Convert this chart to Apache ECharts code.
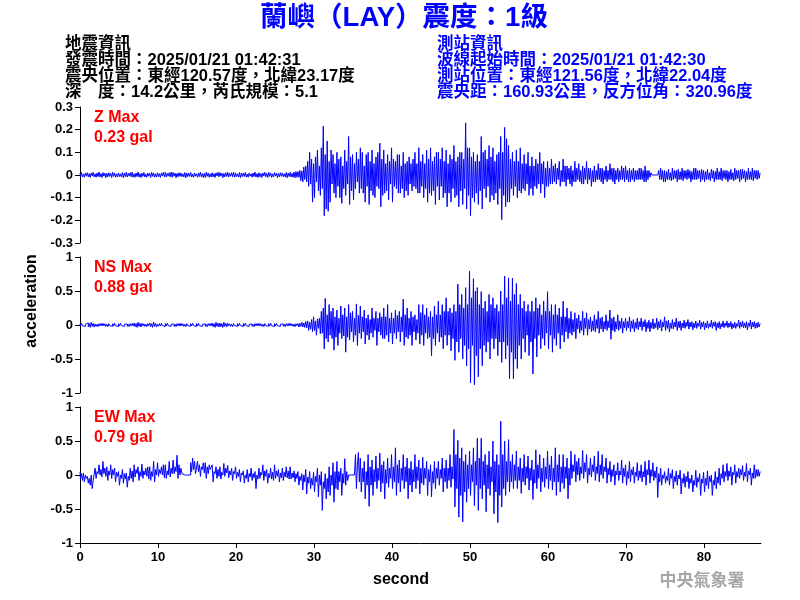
<!DOCTYPE html>
<html><head><meta charset="utf-8">
<script src="https://cdn.jsdelivr.net/npm/echarts@6/dist/echarts.min.js"></script>
<style>html,body{margin:0;padding:0;background:#fff}#c{width:800px;height:600px}</style>
</head><body><div id="c"></div>
<script>
// sampling step of the hand-read waveforms (seconds): 8 values per second
const sampleStep = 0.125;

// Z component (gal), one row per second
const zValues = [
0.008,-0.006,0.011,-0.009,0.004,-0.01,0.009,-0.005,
0.01,-0.008,0.006,-0.011,0.009,-0.004,0.012,-0.008,
0.005,-0.01,0.009,-0.007,0.013,-0.009,0.006,-0.011,
0.011,-0.005,0.008,-0.012,0.007,-0.008,0.01,-0.006,
0.007,-0.011,0.012,-0.006,0.009,-0.01,0.005,-0.009,
0.009,-0.007,0.005,-0.009,0.011,-0.012,0.008,-0.007,
0.012,-0.009,0.007,-0.005,0.01,-0.008,0.013,-0.01,
0.005,-0.01,0.009,-0.007,0.013,-0.009,0.006,-0.011,
0.008,-0.006,0.011,-0.009,0.004,-0.01,0.009,-0.005,
0.007,-0.011,0.012,-0.006,0.009,-0.01,0.005,-0.009,
0.01,-0.008,0.006,-0.011,0.009,-0.004,0.012,-0.008,
0.012,-0.009,0.007,-0.005,0.01,-0.008,0.013,-0.01,
0.011,-0.005,0.008,-0.012,0.007,-0.008,0.01,-0.006,
0.009,-0.007,0.005,-0.009,0.011,-0.012,0.008,-0.007,
0.008,-0.006,0.011,-0.009,0.004,-0.01,0.009,-0.005,
0.005,-0.01,0.009,-0.007,0.013,-0.009,0.006,-0.011,
0.007,-0.011,0.012,-0.006,0.009,-0.01,0.005,-0.009,
0.01,-0.008,0.006,-0.011,0.009,-0.004,0.012,-0.008,
0.011,-0.005,0.008,-0.012,0.007,-0.008,0.01,-0.006,
0.012,-0.009,0.007,-0.005,0.01,-0.008,0.013,-0.01,
0.009,-0.007,0.005,-0.009,0.011,-0.012,0.008,-0.007,
0.008,-0.006,0.011,-0.009,0.004,-0.01,0.009,-0.005,
0.005,-0.01,0.009,-0.007,0.013,-0.009,0.006,-0.011,
0.01,-0.008,0.006,-0.011,0.009,-0.004,0.012,-0.008,
0.007,-0.011,0.012,-0.006,0.009,-0.01,0.005,-0.009,
0.011,-0.005,0.008,-0.012,0.007,-0.008,0.01,-0.006,
0.009,-0.007,0.005,-0.009,0.011,-0.012,0.008,-0.007,
0.012,-0.009,0.007,-0.01,0.013,-0.012,0.015,-0.01,
0.015,-0.01,0.02,-0.025,0.018,-0.03,0.035,-0.02,
0.04,-0.03,0.06,-0.05,0.1,-0.04,0.07,-0.12,
0.05,-0.1,0.08,-0.03,0.11,-0.07,0.04,-0.09,
0.12,-0.06,0.216,-0.18,0.09,-0.15,0.15,-0.16,
0.06,-0.12,0.11,-0.04,0.09,-0.08,0.05,-0.1,
0.1,-0.05,0.07,-0.1,0.08,-0.125,0.04,-0.06,
0.11,-0.09,0.06,-0.04,0.17,-0.13,0.08,-0.07,
0.09,-0.11,0.05,-0.06,0.1,-0.03,0.07,-0.08,
0.12,-0.06,0.1,-0.08,0.04,-0.12,0.09,-0.05,
0.1,-0.13,0.06,-0.07,0.11,-0.09,0.05,-0.1,
0.08,-0.05,0.1,-0.06,0.14,-0.14,0.07,-0.09,
0.11,-0.08,0.05,-0.07,0.09,-0.11,0.06,-0.04,
0.12,-0.12,0.07,-0.05,0.06,-0.06,0.09,-0.08,
0.09,-0.08,0.04,-0.06,0.1,-0.1,0.05,-0.07,
0.06,-0.09,0.08,-0.04,0.05,-0.07,0.07,-0.05,
0.1,-0.06,0.05,-0.08,0.12,-0.08,0.06,-0.05,
0.09,-0.1,0.05,-0.06,0.11,-0.12,0.07,-0.08,
0.12,-0.09,0.06,-0.07,0.08,-0.13,0.1,-0.05,
0.1,-0.11,0.07,-0.05,0.12,-0.1,0.06,-0.08,
0.11,-0.14,0.05,-0.08,0.09,-0.12,0.07,-0.06,
0.13,-0.1,0.06,-0.09,0.08,-0.14,0.1,-0.07,
0.1,-0.13,0.07,-0.06,0.23,-0.15,0.12,-0.09,
0.12,-0.18,0.08,-0.1,0.1,-0.12,0.06,-0.08,
0.09,-0.13,0.06,-0.07,0.17,-0.15,0.1,-0.06,
0.11,-0.1,0.07,-0.05,0.13,-0.12,0.08,-0.09,
0.12,-0.11,0.06,-0.08,0.09,-0.13,0.1,-0.06,
0.17,-0.197,0.1,-0.09,0.21,-0.14,0.16,-0.12,
0.13,-0.12,0.07,-0.06,0.1,-0.09,0.06,-0.05,
0.11,-0.1,0.06,-0.07,0.12,-0.08,0.05,-0.06,
0.09,-0.07,0.05,-0.04,0.1,-0.09,0.04,-0.06,
0.08,-0.09,0.04,-0.05,0.07,-0.06,0.05,-0.04,
0.1,-0.08,0.05,-0.04,0.06,-0.1,0.03,-0.05,
0.06,-0.05,0.03,-0.04,0.07,-0.04,0.04,-0.03,
0.05,-0.04,0.03,-0.02,0.06,-0.05,0.02,-0.03,
0.07,-0.03,0.04,-0.05,0.04,-0.02,0.03,-0.04,
0.04,-0.05,0.02,-0.03,0.06,-0.03,0.03,-0.02,
0.05,-0.03,0.02,-0.04,0.04,-0.04,0.03,-0.02,
0.06,-0.04,0.03,-0.02,0.03,-0.05,0.02,-0.03,
0.04,-0.03,0.02,-0.02,0.05,-0.02,0.03,-0.03,
0.03,-0.04,0.02,-0.02,0.04,-0.03,0.02,-0.02,
0.05,-0.02,0.03,-0.03,0.03,-0.04,0.02,-0.02,
0.03,-0.03,0.02,-0.02,0.04,-0.02,0.03,-0.03,
0.04,-0.02,0.02,-0.03,0.03,-0.03,0.02,-0.02,
0.03,-0.03,0.02,-0.02,0.02,-0.02,0.03,-0.02,
0.03,-0.02,0.02,-0.03,0.04,-0.03,0.02,-0.02,
0.02,-0.01,0.01,0,0,0,0,0,
0,0,0.02,-0.02,0.03,-0.02,0.02,-0.03,
0.02,-0.03,0.015,-0.02,0.025,-0.02,0.01,-0.025,
0.03,-0.02,0.02,-0.015,0.02,-0.03,0.025,-0.02,
0.015,-0.02,0.03,-0.025,0.02,-0.015,0.02,-0.02,
0.025,-0.015,0.02,-0.03,0.015,-0.02,0.03,-0.02,
0.03,-0.02,0.02,-0.015,0.02,-0.03,0.025,-0.02,
0.02,-0.03,0.015,-0.02,0.025,-0.02,0.01,-0.025,
0.025,-0.015,0.02,-0.03,0.015,-0.02,0.03,-0.02,
0.015,-0.02,0.03,-0.025,0.02,-0.015,0.02,-0.02,
0.02,-0.03,0.015,-0.02,0.025,-0.02,0.01,-0.025,
0.03,-0.02,0.02,-0.015,0.02,-0.03,0.025,-0.02,
0.025,-0.015,0.02,-0.03,0.015,-0.02,0.03,-0.02,
0.015,-0.02,0.03,-0.025,0.02,-0.015,0.02,-0.02,
0.02,-0.015,0.01
];

// NS component (gal)
const nsValues = [
0.02,-0.015,0.025,-0.01,0.015,-0.02,0.01,-0.018,
0.03,-0.025,0.02,-0.035,0.04,-0.02,0.025,-0.03,
0.015,-0.02,0.01,-0.025,0.02,-0.012,0.022,-0.015,
0.025,-0.012,0.018,-0.02,0.012,-0.025,0.02,-0.01,
0.012,-0.018,0.02,-0.015,0.025,-0.01,0.015,-0.022,
0.02,-0.015,0.025,-0.01,0.015,-0.02,0.01,-0.018,
0.015,-0.02,0.01,-0.025,0.02,-0.012,0.022,-0.015,
0.03,-0.025,0.02,-0.035,0.04,-0.02,0.025,-0.03,
0.025,-0.012,0.018,-0.02,0.012,-0.025,0.02,-0.01,
0.03,-0.025,0.02,-0.035,0.04,-0.02,0.025,-0.03,
0.012,-0.018,0.02,-0.015,0.025,-0.01,0.015,-0.022,
0.02,-0.015,0.025,-0.01,0.015,-0.02,0.01,-0.018,
0.015,-0.02,0.01,-0.025,0.02,-0.012,0.022,-0.015,
0.025,-0.012,0.018,-0.02,0.012,-0.025,0.02,-0.01,
0.012,-0.018,0.02,-0.015,0.025,-0.01,0.015,-0.022,
0.02,-0.015,0.025,-0.01,0.015,-0.02,0.01,-0.018,
0.015,-0.02,0.01,-0.025,0.02,-0.012,0.022,-0.015,
0.03,-0.025,0.02,-0.035,0.04,-0.02,0.025,-0.03,
0.03,-0.025,0.02,-0.035,0.04,-0.02,0.025,-0.03,
0.025,-0.012,0.018,-0.02,0.012,-0.025,0.02,-0.01,
0.012,-0.018,0.02,-0.015,0.025,-0.01,0.015,-0.022,
0.02,-0.015,0.025,-0.01,0.015,-0.02,0.01,-0.018,
0.015,-0.02,0.01,-0.025,0.02,-0.012,0.022,-0.015,
0.025,-0.012,0.018,-0.02,0.012,-0.025,0.02,-0.01,
0.012,-0.018,0.02,-0.015,0.025,-0.01,0.015,-0.022,
0.02,-0.015,0.025,-0.01,0.015,-0.02,0.01,-0.018,
0.015,-0.02,0.01,-0.025,0.02,-0.012,0.022,-0.015,
0.025,-0.012,0.018,-0.02,0.012,-0.025,0.02,-0.01,
0.02,-0.03,0.025,-0.02,0.04,-0.03,0.03,-0.035,
0.05,-0.04,0.06,-0.08,0.04,-0.06,0.08,-0.1,
0.12,-0.08,0.06,-0.15,0.09,-0.05,0.1,-0.13,
0.2,-0.12,0.25,-0.35,0.39,-0.2,0.15,-0.25,
0.3,-0.15,0.2,-0.2,0.25,-0.37,0.12,-0.18,
0.22,-0.3,0.1,-0.12,0.28,-0.2,0.15,-0.16,
0.25,-0.4,0.12,-0.18,0.3,-0.22,0.18,-0.1,
0.2,-0.25,0.1,-0.15,0.31,-0.3,0.14,-0.12,
0.28,-0.2,0.12,-0.1,0.22,-0.28,0.1,-0.15,
0.15,-0.22,0.08,-0.12,0.25,-0.18,0.1,-0.08,
0.2,-0.3,0.1,-0.1,0.18,-0.15,0.12,-0.2,
0.25,-0.2,0.12,-0.15,0.3,-0.25,0.1,-0.12,
0.18,-0.28,0.1,-0.12,0.22,-0.2,0.14,-0.1,
0.2,-0.25,0.12,-0.1,0.38,-0.3,0.15,-0.18,
0.25,-0.2,0.1,-0.15,0.2,-0.3,0.12,-0.1,
0.15,-0.22,0.08,-0.12,0.3,-0.28,0.18,-0.15,
0.3,-0.3,0.15,-0.12,0.25,-0.2,0.12,-0.18,
0.2,-0.45,0.12,-0.2,0.28,-0.3,0.15,-0.12,
0.35,-0.25,0.15,-0.18,0.3,-0.35,0.2,-0.15,
0.4,-0.3,0.2,-0.15,0.25,-0.38,0.18,-0.2,
0.3,-0.52,0.2,-0.25,0.6,-0.4,0.3,-0.2,
0.45,-0.5,0.25,-0.3,0.55,-0.6,0.3,-0.35,
0.79,-0.85,0.4,-0.3,0.68,-0.88,0.5,-0.45,
0.55,-0.76,0.3,-0.35,0.49,-0.6,0.25,-0.3,
0.35,-0.4,0.2,-0.25,0.45,-0.5,0.3,-0.2,
0.4,-0.35,0.25,-0.2,0.3,-0.45,0.2,-0.25,
0.5,-0.55,0.3,-0.25,0.72,-0.5,0.4,-0.3,
0.69,-0.79,0.35,-0.4,0.69,-0.79,0.45,-0.5,
0.61,-0.64,0.3,-0.3,0.45,-0.5,0.25,-0.2,
0.35,-0.4,0.2,-0.15,0.3,-0.45,0.2,-0.25,
0.35,-0.72,0.2,-0.2,0.4,-0.47,0.25,-0.15,
0.3,-0.35,0.15,-0.2,0.35,-0.3,0.2,-0.12,
0.49,-0.35,0.2,-0.15,0.3,-0.4,0.15,-0.2,
0.3,-0.3,0.15,-0.12,0.25,-0.35,0.12,-0.15,
0.35,-0.25,0.12,-0.1,0.25,-0.2,0.1,-0.12,
0.2,-0.15,0.08,-0.1,0.18,-0.2,0.1,-0.06,
0.15,-0.12,0.06,-0.08,0.2,-0.15,0.1,-0.05,
0.18,-0.15,0.08,-0.06,0.12,-0.1,0.06,-0.08,
0.15,-0.1,0.08,-0.05,0.2,-0.12,0.1,-0.06,
0.12,-0.1,0.05,-0.06,0.15,-0.08,0.06,-0.04,
0.22,-0.21,0.1,-0.08,0.12,-0.1,0.05,-0.06,
0.15,-0.08,0.06,-0.05,0.1,-0.12,0.05,-0.04,
0.1,-0.08,0.05,-0.04,0.12,-0.1,0.06,-0.05,
0.08,-0.1,0.04,-0.05,0.1,-0.07,0.05,-0.03,
0.1,-0.08,0.05,-0.03,0.08,-0.1,0.04,-0.05,
0.07,-0.1,0.04,-0.05,0.09,-0.06,0.03,-0.04,
0.1,-0.07,0.05,-0.04,0.08,-0.09,0.04,-0.03,
0.12,-0.08,0.06,-0.05,0.07,-0.1,0.03,-0.05,
0.08,-0.06,0.04,-0.03,0.1,-0.08,0.05,-0.04,
0.06,-0.08,0.03,-0.04,0.07,-0.05,0.04,-0.02,
0.08,-0.06,0.04,-0.03,0.05,-0.07,0.03,-0.04,
0.06,-0.05,0.03,-0.02,0.07,-0.06,0.04,-0.03,
0.05,-0.07,0.03,-0.04,0.06,-0.05,0.02,-0.03,
0.07,-0.05,0.04,-0.02,0.05,-0.08,0.03,-0.04,
0.05,-0.06,0.02,-0.03,0.06,-0.04,0.03,-0.02,
0.06,-0.04,0.03,-0.03,0.05,-0.06,0.02,-0.04,
0.04,-0.05,0.02,-0.02,0.07,-0.05,0.04,-0.03,
0.06,-0.04,0.03,-0.04,0.05,-0.07,0.03,-0.02,
0.07,-0.06,0.04,-0.03,0.05,-0.05,0.03,-0.04,
0.04,-0.03,0.02
];

// EW component (gal)
const ewValues = [
0.04,-0.06,0.02,-0.08,0.03,-0.1,0.0,-0.05,
-0.02,-0.12,-0.05,-0.15,0.0,-0.2,-0.08,-0.1,
0.1,-0.05,0.05,0.02,0.15,0.0,0.08,-0.03,
0.2,0.02,0.1,-0.02,0.12,-0.08,0.06,0.0,
0.15,-0.05,0.08,0.0,0.1,-0.1,0.04,-0.02,
0.05,-0.15,0.0,-0.05,0.08,-0.12,0.02,-0.06,
0.03,-0.18,-0.02,-0.08,0.1,-0.05,0.06,-0.1,
0.15,-0.03,0.08,0.02,0.12,-0.08,0.05,-0.02,
0.16,-0.05,0.06,0.0,0.1,-0.02,0.12,-0.06,
0.12,-0.08,0.05,-0.02,0.2,-0.1,0.08,0.0,
0.18,-0.02,0.08,0.02,0.12,0.0,0.15,-0.04,
0.15,-0.05,0.06,0.0,0.2,-0.03,0.1,0.02,
0.22,0.02,0.12,0.05,0.29,-0.05,0.15,0.0,
0.1,0.02,0,0,0,0,0,0,
0,0,0.18,0.05,0.25,0.08,0.2,0.02,
0.02,0.2,0.05,0.15,-0.02,0.12,0.08,0.18,
0.03,0.18,-0.05,0.12,0.02,0.15,0.08,0.1,
0.15,-0.1,0.05,0.02,0.12,-0.05,0.08,-0.02,
0.12,-0.06,0.04,0.0,0.17,-0.02,0.1,0.03,
0.14,-0.04,0.06,0.0,0.1,-0.08,0.05,0.02,
0.12,-0.05,0.04,-0.02,0.08,-0.1,0.03,0.0,
0.06,-0.12,0.0,-0.05,0.08,-0.1,0.02,-0.03,
0.1,-0.08,0.02,-0.04,0.05,-0.2,0.0,-0.06,
0.1,-0.05,0.04,0.0,0.15,-0.08,0.06,-0.02,
0.08,-0.12,0.02,-0.04,0.1,-0.06,0.04,-0.08,
0.15,-0.05,0.06,-0.02,0.08,-0.1,0.03,-0.04,
0.1,-0.08,0.04,-0.03,0.12,-0.04,0.06,-0.06,
0.12,-0.06,0.03,-0.04,0.06,-0.1,0.02,-0.05,
0.05,-0.15,-0.02,-0.08,0.02,-0.22,0.0,-0.1,
0.08,-0.28,-0.03,-0.12,0.05,-0.2,-0.05,-0.15,
0.04,-0.25,-0.02,-0.1,0.1,-0.32,0.0,-0.15,
0.05,-0.52,-0.1,-0.2,0.02,-0.35,-0.05,-0.25,
0.12,-0.3,0.0,-0.15,0.18,-0.4,0.05,-0.2,
0.2,-0.22,0.05,-0.1,0.1,-0.3,0.02,-0.12,
0.24,-0.15,0.05,-0.08,0,0,0,0,
0,0,0,0.3,-0.2,0.15,0.33,-0.1,
0.25,-0.25,0.1,-0.1,0.2,-0.35,0.05,-0.15,
0.3,-0.46,0.12,-0.15,0.22,-0.3,0.08,-0.1,
0.28,-0.2,0.1,-0.08,0.32,-0.25,0.15,-0.12,
0.2,-0.35,0.08,-0.12,0.25,-0.18,0.1,-0.05,
0.3,-0.2,0.12,-0.1,0.4,-0.3,0.15,-0.12,
0.22,-0.25,0.1,-0.08,0.3,-0.2,0.12,-0.1,
0.25,-0.35,0.1,-0.15,0.2,-0.25,0.08,-0.1,
0.3,-0.2,0.12,-0.08,0.22,-0.28,0.1,-0.12,
0.26,-0.15,0.1,-0.05,0.2,-0.3,0.08,-0.1,
0.15,-0.32,0.05,-0.12,0.2,-0.2,0.1,-0.05,
0.2,-0.15,0.08,-0.05,0.25,-0.25,0.1,-0.1,
0.22,-0.2,0.1,-0.08,0.3,-0.18,0.12,-0.06,
0.67,-0.47,0.3,-0.2,0.51,-0.62,0.25,-0.3,
0.4,-0.69,0.2,-0.25,0.3,-0.4,0.15,-0.2,
0.35,-0.3,0.15,-0.1,0.4,-0.45,0.2,-0.15,
0.54,-0.52,0.25,-0.2,0.54,-0.35,0.2,-0.15,
0.3,-0.54,0.15,-0.2,0.35,-0.3,0.12,-0.1,
0.5,-0.57,0.2,-0.25,0.3,-0.7,0.15,-0.3,
0.79,-0.47,0.3,-0.2,0.5,-0.3,0.2,-0.1,
0.52,-0.25,0.2,-0.1,0.3,-0.2,0.15,-0.08,
0.35,-0.2,0.12,-0.08,0.25,-0.27,0.1,-0.1,
0.3,-0.15,0.12,-0.05,0.28,-0.22,0.1,-0.08,
0.22,-0.36,0.08,-0.12,0.37,-0.2,0.15,-0.05,
0.3,-0.25,0.1,-0.1,0.25,-0.18,0.12,-0.06,
0.35,-0.2,0.15,-0.08,0.28,-0.22,0.1,-0.1,
0.4,-0.3,0.15,-0.1,0.3,-0.25,0.12,-0.12,
0.3,-0.2,0.12,-0.05,0.25,-0.35,0.1,-0.15,
0.35,-0.05,0.15,0.05,0.3,-0.1,0.2,0.0,
0.25,-0.08,0.12,0.02,0.36,-0.05,0.18,0.05,
0.3,-0.12,0.1,0.0,0.25,-0.03,0.15,0.05,
0.28,-0.08,0.12,0.02,0.35,-0.1,0.15,0.0,
0.3,-0.05,0.12,0.05,0.25,-0.12,0.1,0.0,
0.2,-0.1,0.08,-0.02,0.15,-0.15,0.06,0.0,
0.18,-0.08,0.06,0.0,0.22,-0.12,0.1,-0.02,
0.15,-0.15,0.05,-0.05,0.2,-0.1,0.08,0.0,
0.12,-0.12,0.04,-0.02,0.18,-0.08,0.06,-0.04,
0.15,-0.1,0.05,-0.03,0.2,-0.15,0.08,0.0,
0.22,-0.12,0.08,-0.02,0.18,-0.08,0.06,-0.04,
0.12,-0.33,0.02,-0.1,0.1,-0.15,0.0,-0.05,
0.05,-0.12,-0.02,-0.08,0.1,-0.15,0.02,-0.05,
0.08,-0.2,-0.02,-0.1,0.06,-0.15,0.0,-0.06,
0.07,-0.28,-0.05,-0.12,0.02,-0.18,-0.02,-0.1,
0.05,-0.2,-0.05,-0.12,0.0,-0.25,-0.08,-0.15,
0.07,-0.18,-0.04,-0.1,0.02,-0.3,-0.06,-0.12,
0.04,-0.25,-0.05,-0.15,0.06,-0.2,-0.02,-0.1,
0.0,-0.3,-0.08,-0.15,0.05,-0.2,-0.03,-0.12,
0.1,-0.15,0.02,-0.05,0.15,-0.1,0.05,-0.02,
0.17,-0.08,0.06,-0.02,0.12,-0.15,0.04,0.0,
0.15,-0.12,0.05,-0.03,0.1,-0.05,0.08,0.0,
0.14,-0.08,0.04,-0.02,0.17,-0.1,0.06,0.0,
0.1,-0.15,0.03,-0.05,0.15,-0.05,0.08,-0.02,
0.08,-0.02,0.05
];

const xTickValues = [0,10,20,30,40,50,60,70,80];
const xMax = 87.3;
const zRange = [-0.3, 0.3, 0.1];
const hRange = [-1, 1, 0.5];
const channelNames = ['Z Max', 'NS Max', 'EW Max'];
const channelMaxText = ['0.23 gal', '0.88 gal', '0.79 gal'];
const titleText = '蘭嶼（LAY）震度：1級';
const quakeInfo = ['地震資訊', '發震時間：2025/01/21 01:42:31', '震央位置：東經120.57度，北緯23.17度', '深　度：14.2公里，芮氏規模：5.1'];
const stationInfo = ['測站資訊', '波線起始時間：2025/01/21 01:42:30', '測站位置：東經121.56度，北緯22.04度', '震央距：160.93公里，反方位角：320.96度'];
const yName = 'acceleration';
const xName = 'second';
const agencyText = '中央氣象署';

const LAT = '"Liberation Sans", Arial, sans-serif';
const CJK = '"Liberation Sans", "Noto Sans CJK TC", sans-serif';
const gridTops = [107, 257, 407];
const gridLeft = 80, gridW = 681, gridH = 136;

const chart = echarts.init(document.getElementById('c'), null, {renderer: 'canvas'});
const allSeries = [zValues, nsValues, ewValues];

const grids = gridTops.map(t => ({left: gridLeft, top: t, width: gridW, height: gridH}));
const xAxes = gridTops.map((t, i) => ({
  type: 'value', gridIndex: i, min: 0, max: xMax, interval: 10,
  show: i === 2,
  axisLine: {show: true, onZero: false, lineStyle: {color: '#000', width: 1}},
  axisTick: {show: true, length: 5, inside: false, lineStyle: {color: '#000'}, customValues: xTickValues},
  axisLabel: {show: true, color: '#000', fontSize: 13, fontWeight: 'bold', fontFamily: LAT, margin: 8, customValues: xTickValues},
  splitLine: {show: false}
}));
const yAxes = gridTops.map((t, i) => {
  const r = i === 0 ? zRange : hRange;
  return {
    type: 'value', gridIndex: i, min: r[0], max: r[1], interval: r[2],
    axisLine: {show: true, onZero: false, lineStyle: {color: '#000', width: 1}},
    axisTick: {show: true, length: 5, lineStyle: {color: '#000'}},
    axisLabel: {color: '#000', fontSize: 13, fontWeight: 'bold', fontFamily: LAT, margin: 7,
      formatter: v => String(+(+v).toFixed(2))},
    splitLine: {show: false}
  };
});
const series = allSeries.map((vals, i) => ({
  type: 'line', xAxisIndex: i, yAxisIndex: i,
  data: vals.map((v, k) => [k * sampleStep, v]),
  showSymbol: false, symbol: 'none', sampling: null, smooth: false, step: 'middle',
  lineStyle: {color: '#0000ff', width: 1}, itemStyle: {color: '#0000ff'},
  silent: true, clip: true
}));

const graphics = [];
graphics.push({type: 'text', x: 404, y: 18, style: {text: titleText, fill: '#0000ff', font: 'bold 27.5px ' + CJK, align: 'center', verticalAlign: 'middle'}});
const lineYs = [44, 60, 76, 92];
quakeInfo.forEach((s, k) => graphics.push({type: 'text', x: 65, y: lineYs[k], style: {text: s, fill: '#000', font: 'bold 16.5px ' + CJK, align: 'left', verticalAlign: 'middle'}}));
stationInfo.forEach((s, k) => graphics.push({type: 'text', x: 437, y: lineYs[k], style: {text: s, fill: '#0000ff', font: 'bold 16.5px ' + CJK, align: 'left', verticalAlign: 'middle'}}));
gridTops.forEach((t, i) => {
  graphics.push({type: 'text', x: 94, y: t + 11, style: {text: channelNames[i], fill: '#ff0000', font: 'bold 16px ' + LAT, align: 'left', verticalAlign: 'middle'}});
  graphics.push({type: 'text', x: 94, y: t + 31, style: {text: channelMaxText[i], fill: '#ff0000', font: 'bold 16px ' + LAT, align: 'left', verticalAlign: 'middle'}});
});
graphics.push({type: 'text', x: 32, y: 301, rotation: Math.PI / 2, style: {text: yName, fill: '#000', font: 'bold 16px ' + LAT, align: 'center', verticalAlign: 'middle'}});
graphics.push({type: 'text', x: 401, y: 580, style: {text: xName, fill: '#000', font: 'bold 16px ' + LAT, align: 'center', verticalAlign: 'middle'}});
graphics.push({type: 'text', x: 702, y: 580, style: {text: agencyText, fill: '#a6a6a6', font: 'bold 17px "Noto Sans CJK TC", serif', align: 'center', verticalAlign: 'middle'}});

chart.setOption({
  animation: false,
  backgroundColor: '#fff',
  grid: grids, xAxis: xAxes, yAxis: yAxes, series: series,
  graphic: graphics
});
</script></body></html>
